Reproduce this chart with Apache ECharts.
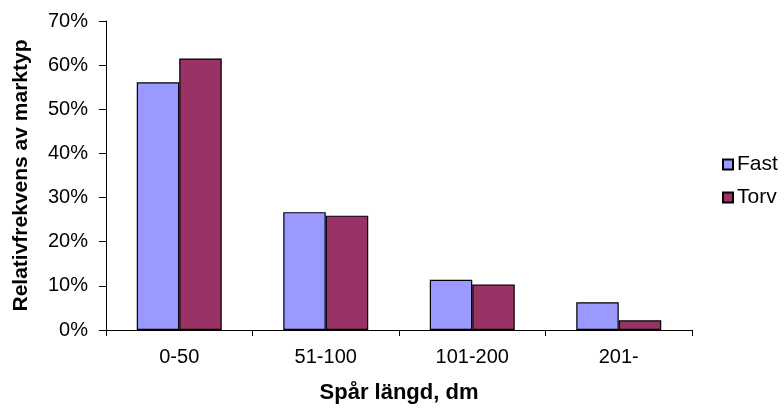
<!DOCTYPE html>
<html>
<head>
<meta charset="utf-8">
<script src="https://cdn.jsdelivr.net/npm/echarts@6/dist/echarts.min.js"></script>
<style>
  html, body { margin: 0; padding: 0; background: #fff; }
  #chart { width: 784px; height: 410px; }
</style>
</head>
<body>
<div id="chart"></div>
<script>
// Spårlängd per klass och relativ frekvens (%) för varje marktyp
const categories = ['0-50', '51-100', '101-200', '201-'];
const fastValues = [56.1, 26.7, 11.4, 6.3];
const torvValues = [61.5, 25.9, 10.3, 2.2];
const yTicks = [0, 10, 20, 30, 40, 50, 60, 70];

const FONT = '"Liberation Sans", Arial, sans-serif';

const chart = echarts.init(document.getElementById('chart'), null, { renderer: 'canvas' });

chart.setOption({
  animation: false,
  backgroundColor: '#ffffff',
  textStyle: { fontFamily: FONT, color: '#000' },
  grid: { left: 106, right: 92, top: 21, bottom: 80, containLabel: false },
  legend: {
    orient: 'vertical',
    left: 717,
    top: 149,
    itemWidth: 10,
    itemHeight: 10,
    itemGap: 12,
    icon: 'rect',
    textStyle: { fontFamily: FONT, fontSize: 21, color: '#000', padding: [0, 0, 0, -1] },
    data: ['Fast', 'Torv']
  },
  xAxis: {
    type: 'category',
    data: categories,
    name: 'Spår längd, dm',
    nameLocation: 'middle',
    nameGap: 52,
    nameTextStyle: { fontFamily: FONT, fontSize: 22, fontWeight: 'bold', color: '#000' },
    axisLine: { lineStyle: { color: '#000', width: 1 } },
    axisTick: { show: true, alignWithLabel: false, length: 6, lineStyle: { color: '#000' } },
    axisLabel: { fontFamily: FONT, fontSize: 20, color: '#000', margin: 17 },
    splitLine: { show: false }
  },
  yAxis: {
    type: 'value',
    min: yTicks[0],
    max: yTicks[yTicks.length - 1],
    interval: yTicks[1] - yTicks[0],
    name: 'Relativfrekvens av marktyp',
    nameLocation: 'middle',
    nameGap: 74,
    nameTextStyle: { fontFamily: FONT, fontSize: 21, fontWeight: 'bold', color: '#000' },
    axisLine: { show: true, lineStyle: { color: '#000', width: 1 } },
    axisTick: { show: true, length: 7, lineStyle: { color: '#000' } },
    axisLabel: { fontFamily: FONT, fontSize: 20, color: '#000', margin: 18, formatter: '{value}%' },
    splitLine: { show: false }
  },
  series: [
    {
      name: 'Fast',
      type: 'bar',
      data: fastValues,
      barGap: '0%',
      barCategoryGap: '42%',
      itemStyle: { color: '#9999ff', borderColor: '#000', borderWidth: 1.2 }
    },
    {
      name: 'Torv',
      type: 'bar',
      data: torvValues,
      barGap: '0%',
      barCategoryGap: '42%',
      itemStyle: { color: '#993366', borderColor: '#000', borderWidth: 1.2 }
    }
  ]
});
</script>
</body>
</html>
